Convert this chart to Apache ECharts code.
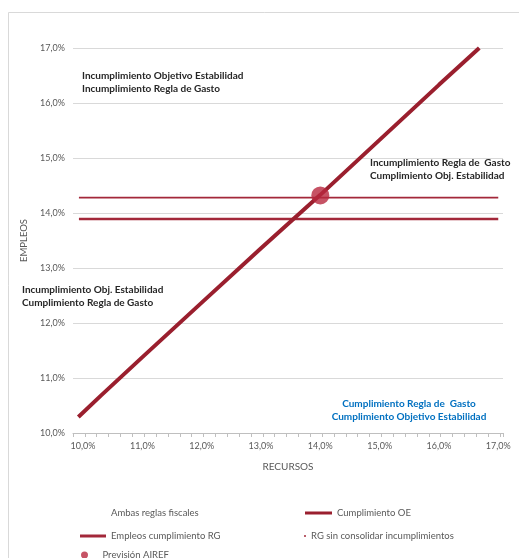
<!DOCTYPE html>
<html>
<head>
<meta charset="utf-8">
<script src="https://cdn.jsdelivr.net/npm/echarts@6/dist/echarts.min.js"></script>
<style>
html,body{margin:0;padding:0;background:#fff;}
#main{width:519px;height:558px;}
</style>
</head>
<body>
<div id="main"></div>
<script>
// ---- data ----
var yTicks = [10, 11, 12, 13, 14, 15, 16, 17];
var xLabelValues = [10, 11, 12, 13, 14, 15, 16, 17];
var oeLine = [[9.92, 10.29], [10.30, 10.68], [11.0, 11.38], [12.0, 12.37], [13.0, 13.36], [14.0, 14.33], [15.0, 15.33], [16.0, 16.33], [16.68, 17.0]];
var rgLine = [[9.93, 13.89], [17.0, 13.89]];
var rgSinConsolidar = [[9.93, 14.28], [17.0, 14.28]];
var airef = [[14.0, 14.32]];
var seriesNames = ['Ambas reglas fiscales', 'Cumplimiento OE', 'Empleos cumplimiento RG', 'RG sin consolidar incumplimientos', 'Previsión AIREF'];

var xMin = 9.83, xMax = 17.08;
var xTickValues = [];
for (var t = xMin; t <= xMax + 1e-6; t += 0.2) xTickValues.push(+t.toFixed(3));
xTickValues.push(xMax);

function pct(v) { return v.toFixed(1).replace('.', ',') + '%'; }

var FONT = 'Lato';
var chart = echarts.init(document.getElementById('main'), null, {renderer: 'canvas'});
var legendText = {color: '#595959', fontSize: 9.5, fontFamily: FONT};

var option = {
  backgroundColor: '#ffffff',
  animation: false,
  grid: {left: 73, right: 16, top: 48, bottom: 125, containLabel: false},
  xAxis: {
    type: 'value', min: xMin, max: xMax,
    name: 'RECURSOS', nameLocation: 'middle', nameGap: 29,
    nameTextStyle: {color: '#595959', fontSize: 10, fontFamily: FONT},
    axisLine: {show: true, lineStyle: {color: '#BFBFBF', width: 1}},
    axisTick: {show: true, length: 4, lineStyle: {color: '#BFBFBF'}, customValues: xTickValues},
    axisLabel: {color: '#595959', fontSize: 9, fontFamily: FONT, margin: 9, customValues: xLabelValues, formatter: pct},
    splitLine: {show: false}
  },
  yAxis: {
    type: 'value', min: yTicks[0], max: yTicks[yTicks.length - 1], interval: 1,
    name: 'EMPLEOS', nameLocation: 'middle', nameGap: 42,
    nameTextStyle: {color: '#595959', fontSize: 9.5, fontFamily: FONT},
    axisLine: {show: false}, axisTick: {show: false},
    axisLabel: {color: '#595959', fontSize: 9, fontFamily: FONT, margin: 8, formatter: pct},
    splitLine: {show: true, lineStyle: {color: '#D9D9D9', width: 1}}
  },
  legend: [
    {data: [{name: seriesNames[0], icon: 'rect', itemStyle: {color: 'rgba(0,0,0,0)', borderWidth: 0}}], left: 75, top: 503, itemWidth: 26, itemHeight: 3, textStyle: legendText},
    {data: [{name: seriesNames[1], icon: 'rect'}], left: 300, top: 503, itemWidth: 27, itemHeight: 3, itemGap: 0, textStyle: legendText},
    {data: [{name: seriesNames[2], icon: 'rect'}], left: 75, top: 526, itemWidth: 26, itemHeight: 3, textStyle: legendText},
    {data: [{name: seriesNames[3], icon: 'rect'}], left: 299, top: 526, itemWidth: 2, itemHeight: 1.5, textStyle: legendText},
    {data: [{name: seriesNames[4], icon: 'circle'}], left: 76, top: 545, itemWidth: 26, itemHeight: 7, textStyle: legendText}
  ],
  graphic: [
    {type: 'rect', silent: true, z: -10, shape: {x: 8.5, y: 12.5, width: 530, height: 600}, style: {fill: 'none', stroke: '#D9D9D9', lineWidth: 1}},
    {type: 'text', x: 82, y: 69, style: {text: 'Incumplimiento Objetivo Estabilidad\nIncumplimiento Regla de Gasto', fill: '#262626', font: 'bold 10px ' + FONT, lineHeight: 13}},
    {type: 'text', x: 370, y: 156, style: {text: 'Incumplimiento Regla de  Gasto\nCumplimiento Obj. Estabilidad', fill: '#262626', font: 'bold 10px ' + FONT, lineHeight: 13}},
    {type: 'text', x: 22, y: 283, style: {text: 'Incumplimiento Obj. Estabilidad\nCumplimiento Regla de Gasto', fill: '#262626', font: 'bold 10px ' + FONT, lineHeight: 13}},
    {type: 'text', x: 409, y: 397, style: {text: 'Cumplimiento Regla de  Gasto\nCumplimiento Objetivo Estabilidad', fill: '#0070C0', font: 'bold 10px ' + FONT, lineHeight: 13, align: 'center'}}
  ],
  series: [
    {name: seriesNames[0], type: 'line', data: [], color: '#ffffff', showSymbol: false},
    {name: seriesNames[1], type: 'line', data: oeLine, color: '#9A1F2E', showSymbol: false, lineStyle: {width: 4, color: '#9A1F2E'}, z: 3},
    {name: seriesNames[2], type: 'line', data: rgLine, color: '#A3283A', showSymbol: false, lineStyle: {width: 2.5, color: '#A3283A'}, z: 2},
    {name: seriesNames[3], type: 'line', data: rgSinConsolidar, color: '#A3283A', showSymbol: false, lineStyle: {width: 1.8, color: '#A3283A'}, z: 2},
    {name: seriesNames[4], type: 'scatter', data: airef, color: '#B8283F', symbol: 'circle', symbolSize: 18, itemStyle: {color: '#B8283F'}, z: 5}
  ]
};
chart.setOption(option);
</script>
</body>
</html>
